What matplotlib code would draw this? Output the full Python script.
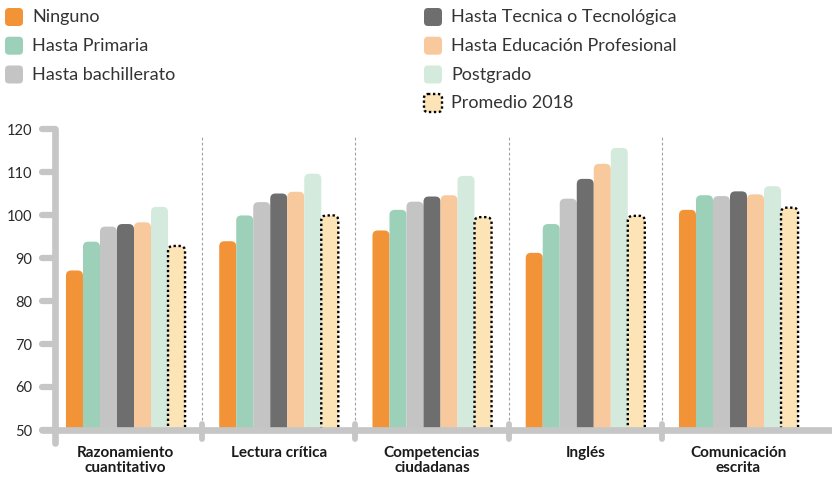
import numpy as np
import matplotlib
matplotlib.use("Agg")
import matplotlib.pyplot as plt
from matplotlib.patches import FancyBboxPatch

plt.rcParams["font.family"] = ["Lato", "DejaVu Sans"]

categories = ["Razonamiento\ncuantitativo", "Lectura crítica", "Competencias\nciudadanas",
              "Inglés", "Comunicación\nescrita"]
series_names = ["Ninguno", "Hasta Primaria", "Hasta bachillerato",
                "Hasta Tecnica o Tecnológica", "Hasta Educación Profesional",
                "Postgrado", "Promedio 2018"]
ninguno = [87.1, 93.9, 96.4, 91.2, 101.2]
primaria = [93.8, 99.9, 101.2, 97.9, 104.6]
bachillerato = [97.3, 103.0, 103.1, 103.8, 104.4]
tecnica = [97.9, 105.0, 104.3, 108.4, 105.5]
profesional = [98.3, 105.4, 104.6, 111.9, 104.8]
postgrado = [101.9, 109.6, 109.1, 115.6, 106.7]
promedio = [92.8, 99.9, 99.5, 99.8, 101.7]
yticks = [50, 60, 70, 80, 90, 100, 110, 120]

series = [ninguno, primaria, bachillerato, tecnica, profesional, postgrado, promedio]
colors = ["#F39337", "#9DD0B9", "#C4C4C4", "#6E6E6E", "#F9C99E", "#D4EADD", "#FDE4B7"]
AXIS_GRAY = "#C6C6C6"
TEXT = "#333333"

W, H = 832, 479
fig = plt.figure(figsize=(W / 100, H / 100), dpi=100)
ax = fig.add_axes([55 / W, 49 / H, 777 / W, 301 / H])
ax.set_xlim(-0.46, 4.61)
ax.set_ylim(50, 120)

x = np.arange(len(categories))
bw = 0.111
base = 46
for i, (vals, col) in enumerate(zip(series, colors)):
    bars = ax.bar(x + (i - 3) * bw, np.array(vals) - base, bw, bottom=base, color=col)
    for r in bars:
        r.remove()
        dotted = i == len(series) - 1
        p = FancyBboxPatch((r.get_x(), r.get_y()), r.get_width(), r.get_height(),
                           boxstyle="round,pad=0,rounding_size=0.034",
                           mutation_aspect=35.7, facecolor=col,
                           edgecolor="black" if dotted else "none",
                           linewidth=1.7 if dotted else 0,
                           linestyle=(0, (1, 1.1)) if dotted else "-",
                           zorder=2)
        ax.add_patch(p)

# group separators
for s in x[:-1] + 0.5:
    ax.plot([s, s], [50, 118.6], color="#A0A0A0", lw=0.8, ls=(0, (2.5, 2)), zorder=1)
    ax.plot([s, s], [48.0, 51.4], color=AXIS_GRAY, lw=4.2, solid_capstyle="round",
            clip_on=False, zorder=3)

# custom thick axis lines and tick stubs
tr = ax.get_yaxis_transform()
ax.plot([-0.0167, 1.0], [50, 50], color=AXIS_GRAY, lw=4.8, solid_capstyle="round",
        transform=tr, clip_on=False, zorder=3)
ax.plot([0, 0], [47, 120], color=AXIS_GRAY, lw=4.8, solid_capstyle="round",
        transform=tr, clip_on=False, zorder=3)
for t in yticks:
    ax.plot([-0.0167, 0], [t, t], color=AXIS_GRAY, lw=4.5, solid_capstyle="round",
            transform=tr, clip_on=False, zorder=3)

for sp in ax.spines.values():
    sp.set_visible(False)
ax.set_yticks(yticks)
ax.set_yticklabels([str(t) for t in yticks], fontsize=10.5, fontweight="normal", color="#2A2A2A")
ax.tick_params(axis="y", length=0, pad=16.5)
ax.set_xticks(x)
ax.set_xticklabels(categories, fontsize=11, fontweight="bold", color="#1A1A1A",
                   linespacing=1.05)
ax.tick_params(axis="x", length=0, pad=11.5)

# legend in pixel space
lg = fig.add_axes([0, 0, 1, 1])
lg.set_xlim(0, W)
lg.set_ylim(H, 0)
lg.axis("off")
col_x = [5, 424]
row_y = [17, 45.7, 74.5, 103]
for k, (name, col) in enumerate(zip(series_names, colors)):
    c = 0 if k < 3 else 1
    r = k if k < 3 else k - 3
    px, py = col_x[c], row_y[r]
    dotted = k == len(series_names) - 1
    lg.add_patch(FancyBboxPatch((px, py - 9), 18, 18,
                                boxstyle="round,pad=0,rounding_size=4",
                                facecolor=col,
                                edgecolor="black" if dotted else "none",
                                linewidth=1.7 if dotted else 0,
                                linestyle=(0, (1, 1.1)) if dotted else "-"))
    lg.text(px + 27, py, name, fontsize=13, fontweight="normal", color=TEXT,
            va="center", ha="left")

fig.savefig("out.png", dpi=100)
